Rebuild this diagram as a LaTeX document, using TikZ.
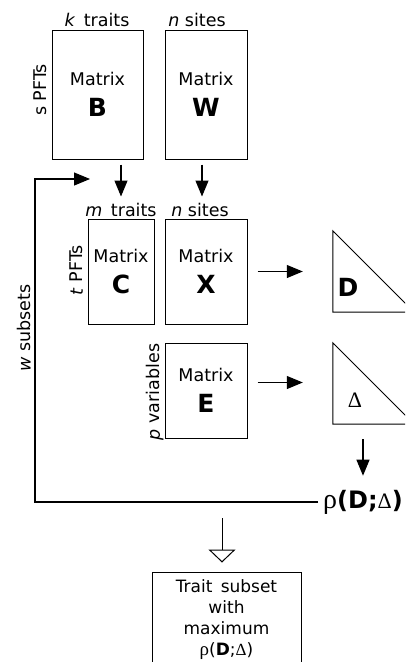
\documentclass[tikz,border=0pt]{standalone}
\usepackage{fontspec}
\setmainfont{DejaVu Sans}
\newfontfamily\grk{Liberation Serif}
\usetikzlibrary{arrows.meta, positioning}

\newcommand{\mtx}[1]{Matrix\\[9pt]{\bfseries\fontsize{25}{25}\selectfont #1}}

\begin{document}
\begin{tikzpicture}[x=1pt, y=-1pt,
  mat/.style={draw, line width=1pt, inner sep=0pt, align=center,
              font=\fontsize{17.5}{22}\selectfont},
  tri/.style={inner sep=0pt, minimum width=81pt, minimum height=81pt},
  big/.style={font=\bfseries\fontsize{25}{25}\selectfont, inner sep=0pt},
  lbl/.style={font=\fontsize{17.5}{20}\selectfont, inner sep=1pt},
  arr/.style={-{Triangle[length=16pt, width=13pt]}, line width=1.1pt},
  openarr/.style={-{Triangle[open, fill=white, length=13pt, width=27pt]}, line width=1pt}
]
\clip (0,0) rectangle (405,662);

% top row
\node[mat, minimum width=91pt, minimum height=129pt] (B) at (97.5,94.5)  {\mtx{B}};
\node[mat, minimum width=82pt, minimum height=129pt] (W) at (206,94.5)   {\mtx{W}};
\node[lbl] (kT) at (97,20)  {\textit{k}\,\ traits};
\node[lbl] (nW) at (197,20) {\textit{n} sites};
\node[lbl, rotate=90] (sP) at (40,90) {s PFTs};

% middle row
\node[mat, minimum width=66pt, minimum height=105pt] (C) at (121,271.5) {\mtx{C}};
\node[mat, minimum width=82pt, minimum height=105pt] (X) at (206,271.5) {\mtx{X}};
\node[mat, minimum width=82pt, minimum height=95pt]  (E) at (206,390.5) {\mtx{E}};
\node[lbl] (mT) at (121,210) {\textit{m}\,\ traits};
\node[lbl] (nX) at (200,210) {\textit{n} sites};
\node[lbl, rotate=90] (tP) at (76.5,270)  {\textit{t} PFTs};
\node[lbl, rotate=90] (pV) at (155,392) {\textit{p} variables};
\node[lbl, rotate=90] (wS) at (24,328)  {\textit{w} subsets};

% distance triangles
\node[tri] (Dm) at (373.5,271.5) {};
\node[tri] (Dl) at (373.5,383.5) {};
\draw[line width=1pt] (Dm.north west) -- (Dm.south west) -- (Dm.south east) -- cycle;
\draw[line width=1pt] (Dl.north west) -- (Dl.south west) -- (Dl.south east) -- cycle;
\node[big] (Dtxt) at (348,287) {D};
\node[font=\grk\fontsize{22}{22}\selectfont, inner sep=0pt] (Ltxt) at (355,400) {Δ};

\node[inner sep=2pt] (rho) at (363,502)
  {{\grk\fontsize{28}{28}\selectfont ρ}{\bfseries\fontsize{24}{24}\selectfont (D;}{\grk\fontsize{22}{22}\selectfont Δ}{\bfseries\fontsize{24}{24}\selectfont )}};

\node[mat, minimum width=149pt, minimum height=96pt, font=\fontsize{17}{21}\selectfont] (res) at (226.5,620)
  {Trait\,\ subset\\with\\maximum\\{\grk\fontsize{19}{19}\selectfont ρ}(\textbf{D};{\grk Δ})};

\coordinate (fb)   at (90,179);
\coordinate (pick) at (222,518);

\draw[arr, shorten <=5pt, shorten >=22pt] (C.north |- B.south) -- (C.north);
\draw[arr, shorten <=5pt, shorten >=22pt] ([xshift=-4pt]X.north |- W.south) -- ([xshift=-4pt]X.north);
\draw[arr, shorten <=10pt, shorten >=30pt] (X.east) -- (X.east -| Dm.west);
\draw[arr, shorten <=10pt, shorten >=30pt] ([yshift=8pt]E.east) -- ([yshift=8pt]E.east -| Dl.west);
\draw[arr, shorten <=15pt, shorten >=12pt] (rho.north |- Dl.south) -- (rho.north);
\draw[arr, shorten <=3pt] (rho.west) -- ++(-286,0) |- (fb);
\draw[openarr, shorten >=9pt] (pick) -- (pick |- res.north);
\end{tikzpicture}
\end{document}
